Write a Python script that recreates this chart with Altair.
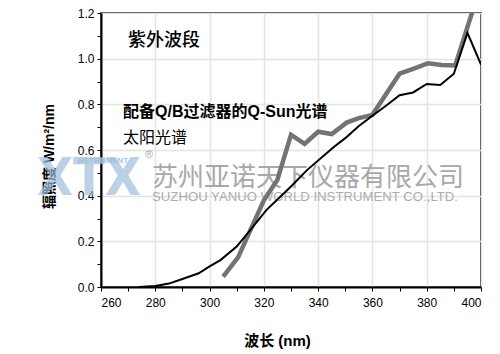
import altair as alt
import pandas as pd

# Sunlight spectrum (black line)
sun_wl = [274, 280, 285, 290, 296, 300, 304, 310, 314, 321, 330, 336, 346, 350, 355, 360, 365, 370, 375, 380, 385, 390, 395, 400]
sun_val = [0.0, 0.004, 0.015, 0.035, 0.06, 0.09, 0.118, 0.177, 0.235, 0.338, 0.44, 0.513, 0.615, 0.652, 0.705, 0.75, 0.794, 0.84, 0.852, 0.889, 0.885, 0.934, 1.113, 0.974]

# Q-Sun with Q/B filter (gray line)
qsun_wl = [305, 310.5, 314.5, 320, 325, 330, 335, 340, 345, 350.5, 355, 360, 370, 375, 380.5, 385.5, 390.5, 398]
qsun_val = [0.045, 0.13, 0.235, 0.38, 0.47, 0.667, 0.627, 0.68, 0.67, 0.72, 0.74, 0.754, 0.934, 0.955, 0.98, 0.972, 0.97, 1.25]

x_ticks = list(range(260, 401, 10))
y_ticks = [round(i * 0.1, 1) for i in range(0, 13)]

title_text = "紫外波段"
label_qsun = "配备Q/B过滤器的Q-Sun光谱"
label_sun = "太阳光谱"
x_title = "波长 (nm)"
y_title = "辐照度 W/m²/nm"
wm_logo = "XTX"
wm_instr = "NSTRUMENT"
wm_reg = "®"
wm_cn = "苏州亚诺天下仪器有限公司"
wm_en = "SUZHOU YANUO WORLD INSTRUMENT CO.,LTD."

FONT = "Liberation Sans, Noto Sans CJK SC"

sun_df = pd.DataFrame({"wl": sun_wl, "val": sun_val})
qsun_df = pd.DataFrame({"wl": qsun_wl, "val": qsun_val})

x_scale = alt.Scale(domain=[260, 400], nice=False, zero=False)
y_scale = alt.Scale(domain=[0, 1.2], nice=False)

x_axis = alt.Axis(
    values=x_ticks,
    labelExpr="datum.value % 20 === 0 ? datum.label : ''",
    format="d",
    labelPadding=6,
    gridOpacity={"condition": {"test": "datum.value % 20 === 0", "value": 1}, "value": 0},
    title=x_title,
    titleX=176, titleY=53, titleAlign="center", titleBaseline="middle",
    titleFontSize=15, titleFontWeight="bold", titleFont=FONT,
)
y_axis = alt.Axis(
    values=y_ticks,
    labelExpr="round(datum.value*10) % 2 === 0 ? format(datum.value, '.1f') : ''",
    labelPadding=3,
    gridOpacity={"condition": {"test": "round(datum.value*10) % 2 === 0", "value": 1}, "value": 0},
    title=y_title,
    titleX=-52, titleY=143, titleAngle=-90, titleAlign="center", titleBaseline="middle",
    titleFontSize=14, titleFontWeight="bold", titleFont=FONT,
)

base_x = alt.X("wl:Q", scale=x_scale, axis=x_axis)
base_y = alt.Y("val:Q", scale=y_scale, axis=y_axis)


def text_layer(txt, x, y, size, color="black", weight="normal", align="left", opacity=1.0, font=FONT):
    return alt.Chart(pd.DataFrame({"t": [txt]})).mark_text(
        align=align, baseline="middle", fontSize=size, fontWeight=weight,
        color=color, opacity=opacity, font=font,
    ).encode(x=alt.value(x), y=alt.value(y), text="t:N")


watermark = [
    text_layer(wm_logo, -12, 166, 52, color="#9fbedb", weight="bold", align="center", opacity=0.7,
               font="DejaVu Sans Condensed, Liberation Sans"),
    text_layer(wm_instr, -23, 148, 8, color="#9fbedb", weight="bold", opacity=0.9),
    text_layer(wm_reg, 44, 142, 11, color="#aaaaaa"),
    text_layer(wm_cn, 51, 165, 26, color="#9a9a9a", opacity=0.85),
    text_layer(wm_en, 51, 184, 13.2, color="#a5a5a5", opacity=0.9),
]

sun_line = alt.Chart(sun_df).mark_line(color="black", strokeWidth=2, clip=True).encode(x=base_x, y=base_y)
qsun_line = alt.Chart(qsun_df).mark_line(color="#737373", strokeWidth=4.5, clip=True).encode(x=base_x, y=base_y)

labels = [
    text_layer(title_text, 27, 28, 18, weight=500),
    text_layer(label_qsun, 22, 99, 16, weight="bold"),
    text_layer(label_sun, 22, 125, 16),
]

chart = alt.layer(*watermark, qsun_line, sun_line, *labels).properties(
    width=380, height=274,
    autosize=alt.AutoSizeParams(type="none"),
    padding={"left": 101, "top": 13, "right": 19, "bottom": 67},
    background="white",
).configure_view(
    stroke="black", strokeWidth=1.5,
).configure_axis(
    labelFont="Liberation Sans", labelFontSize=12, labelColor="black",
    tickColor="black", tickSize=4, tickWidth=1,
    domainColor="black", domainWidth=2,
    gridColor="#e4e4e4", gridWidth=1.5,
)

chart.save("out.html", embed_options={"renderer": "svg", "actions": False})
